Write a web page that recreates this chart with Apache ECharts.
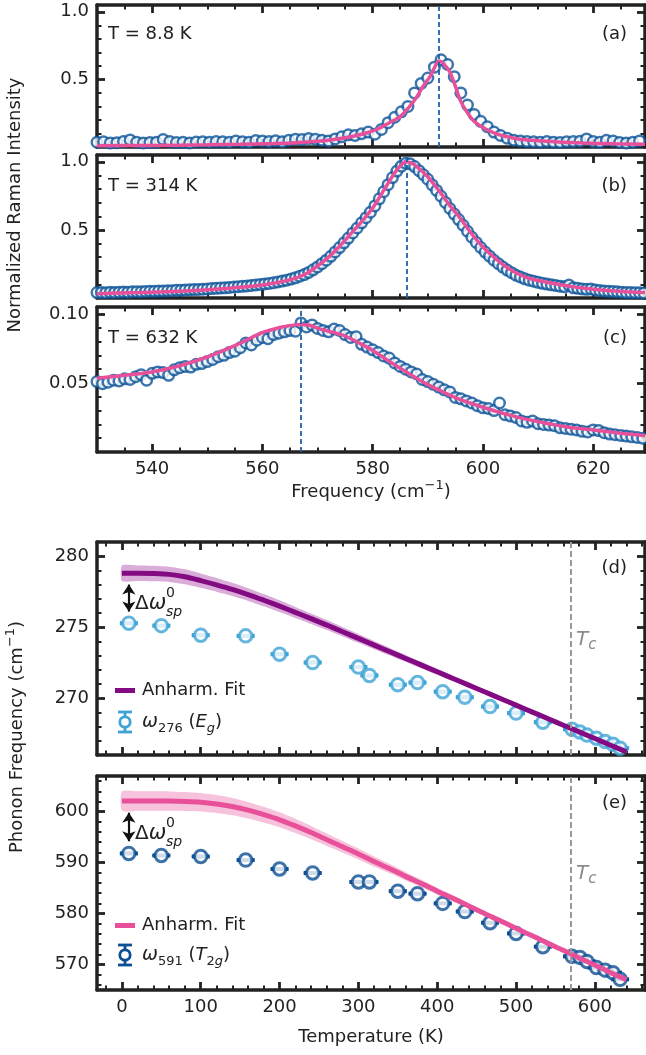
<!DOCTYPE html>
<html>
<head>
<meta charset="utf-8">
<script src="https://cdn.jsdelivr.net/npm/echarts@6/dist/echarts.min.js"></script>
<style>
html, body { margin: 0; padding: 0; background: #fff; }
#chart { width: 646px; height: 1055px; }
</style>
</head>
<body>
<div id="chart"></div>
<script>
// ---------------- Raman spectra (panels a-c) ----------------
const spectrumTemps = [8.8, 314, 632];          // K
const peakCenters = [592.0, 586.1, 567.0];      // cm^-1, fitted peak positions

const freqA = [530.0,531.2,532.4,533.6,534.8,536.0,537.2,538.4,539.6,540.8,542.0,543.2,544.4,545.6,546.8,548.0,549.2,550.4,551.6,552.8,554.0,555.2,556.4,557.6,558.8,560.0,561.2,562.4,563.6,564.8,566.0,567.2,568.4,569.6,570.8,572.0,573.2,574.4,575.6,576.8,578.0,579.2,580.4,581.6,582.8,584.0,585.2,586.4,587.6,588.8,590.0,591.2,592.4,593.6,594.8,596.0,597.2,598.4,599.6,600.8,602.0,603.2,604.4,605.6,606.8,608.0,609.2,610.4,611.6,612.8,614.0,615.2,616.4,617.6,618.8,620.0,621.2,622.4,623.6,624.8,626.0,627.2,628.4];
const intensA = [0.035,0.038,0.030,0.032,0.040,0.052,0.036,0.030,0.034,0.036,0.055,0.040,0.033,0.035,0.030,0.037,0.039,0.036,0.040,0.038,0.035,0.045,0.038,0.036,0.048,0.044,0.040,0.046,0.038,0.050,0.058,0.055,0.062,0.058,0.050,0.045,0.060,0.075,0.090,0.085,0.098,0.110,0.095,0.130,0.180,0.220,0.260,0.300,0.400,0.470,0.510,0.590,0.645,0.610,0.520,0.400,0.310,0.240,0.190,0.150,0.110,0.085,0.065,0.050,0.045,0.040,0.038,0.035,0.040,0.036,0.034,0.038,0.040,0.042,0.060,0.040,0.035,0.050,0.045,0.034,0.030,0.036,0.045];
const fitFreqA = [530,540,550,556,562,566,570,573,576.5,579,581,582.6,584,585,586.5,588,589,590.4,591.2,592,592.6,593.3,594,595,595.9,597,598.3,600,601.9,604,606.7,610,612.8,618,624,629.4];
const fitA = [0.010,0.012,0.016,0.020,0.026,0.032,0.042,0.055,0.080,0.105,0.135,0.170,0.200,0.225,0.290,0.370,0.440,0.520,0.585,0.635,0.625,0.595,0.555,0.450,0.345,0.265,0.195,0.145,0.107,0.080,0.058,0.047,0.040,0.030,0.024,0.020];

const freqB = [530.0,530.8,531.6,532.4,533.2,534.0,534.8,535.6,536.4,537.2,
  538.0,538.8,539.6,540.4,541.2,542.0,542.8,543.6,544.4,545.2,
  546.0,546.8,547.6,548.4,549.2,550.0,550.8,551.6,552.4,553.2,
  554.0,554.8,555.6,556.4,557.2,558.0,558.8,559.6,560.4,561.2,
  562.0,562.8,563.6,564.4,565.2,566.0,566.8,567.6,568.4,569.2,
  570.0,570.8,571.6,572.4,573.2,574.0,574.8,575.6,576.4,577.2,
  578.0,578.8,579.6,580.4,581.2,582.0,582.8,583.6,584.4,585.2,
  586.0,586.8,587.6,588.4,589.2,590.0,590.8,591.6,592.4,593.2,
  594.0,594.8,595.6,596.4,597.2,598.0,598.8,599.6,600.4,601.2,
  602.0,602.8,603.6,604.4,605.2,606.0,606.8,607.6,608.4,609.2,
  610.0,610.8,611.6,612.4,613.2,614.0,614.8,615.6,616.4,617.2,
  618.0,618.8,619.6,620.4,621.2,622.0,622.8,623.6,624.4,625.2,
  626.0,626.8,627.6,628.4,629.2];
const intensB = [0.040,0.041,0.039,0.042,0.041,0.043,0.044,0.043,0.045,0.046,
  0.046,0.048,0.049,0.049,0.051,0.052,0.053,0.054,0.056,0.057,
  0.058,0.060,0.062,0.063,0.065,0.067,0.069,0.071,0.073,0.075,
  0.078,0.081,0.083,0.086,0.089,0.092,0.096,0.099,0.103,0.107,
  0.112,0.118,0.124,0.131,0.139,0.148,0.160,0.172,0.188,0.207,
  0.228,0.252,0.278,0.306,0.338,0.370,0.405,0.440,0.478,0.514,
  0.552,0.590,0.630,0.676,0.728,0.780,0.832,0.884,0.932,0.968,
  0.990,0.985,0.965,0.935,0.905,0.872,0.830,0.790,0.747,0.702,
  0.657,0.616,0.576,0.534,0.490,0.446,0.408,0.371,0.337,0.307,
  0.277,0.252,0.227,0.205,0.186,0.167,0.154,0.141,0.131,0.123,
  0.115,0.108,0.102,0.097,0.092,0.087,0.082,0.095,0.075,0.071,
  0.067,0.064,0.066,0.058,0.055,0.052,0.049,0.047,0.045,0.043,
  0.041,0.040,0.039,0.038,0.037];
const fitFreqB = [530,534,538,542,546,550,554,558,560,562,564,566,568,570,572,574,576,578,580,582,584,585,586,587,588,590,592,594,596,598,600,602,604,606,608,610,612,614,616,618,620,622,624,626,628,629.4];
const fitB = [0.032,0.036,0.040,0.045,0.052,0.060,0.072,0.086,0.096,0.108,0.124,0.146,0.180,0.235,0.300,0.380,0.470,0.560,0.660,0.790,0.920,0.970,1.000,0.990,0.965,0.890,0.790,0.680,0.580,0.470,0.375,0.300,0.235,0.185,0.150,0.128,0.112,0.098,0.085,0.073,0.064,0.057,0.051,0.046,0.042,0.040];

const freqC = [530,531,532,533,534,535,536,537,538,539,540,541,542,543,544,545,546,547,548,549,550,551,552,553,554,555,556,557,558,559,560,561,562,563,564,565,566,567,568,569,570,571,572,573,574,575,576,577,578,579,580,581,582,583,584,585,586,587,588,589,590,591,592,593,594,595,596,597,598,599,600,601,602,603,604,605,606,607,608,609,610,611,612,613,614,615,616,617,618,619,620,621,622,623,624,625,626,627,628,629];
const intensC = [0.0510,0.0495,0.0505,0.0520,0.0515,0.0530,0.0525,0.0545,0.0560,0.0520,0.0570,0.0580,0.0575,0.0555,0.0595,0.0610,0.0620,0.0615,0.0635,0.0640,0.0655,0.0670,0.0690,0.0700,0.0720,0.0730,0.0755,0.0790,0.0775,0.0810,0.0830,0.0820,0.0850,0.0860,0.0870,0.0880,0.0875,0.0935,0.0905,0.0920,0.0895,0.0880,0.0870,0.0890,0.0880,0.0850,0.0830,0.0835,0.0780,0.0760,0.0740,0.0720,0.0695,0.0680,0.0645,0.0620,0.0600,0.0580,0.0565,0.0525,0.0510,0.0490,0.0470,0.0450,0.0435,0.0395,0.0385,0.0370,0.0355,0.0335,0.0320,0.0315,0.0300,0.0355,0.0270,0.0260,0.0250,0.0225,0.0215,0.0225,0.0205,0.0200,0.0195,0.0190,0.0175,0.0170,0.0165,0.0160,0.0150,0.0145,0.0160,0.0155,0.0140,0.0130,0.0125,0.0120,0.0115,0.0110,0.0105,0.0100];
const fitFreqC = [530,535,540,545,550,555,560,563,565,567,568.5,570.5,573,575,577.5,580,582.5,585,587.5,590,592.5,595,597.5,600,602.5,605,607.5,610,612.5,615,617.5,620,622.5,625,627.5,629.4];
const fitC = [0.0535,0.0555,0.0580,0.0625,0.0688,0.0770,0.0864,0.0900,0.0915,0.0923,0.0918,0.0890,0.0865,0.0840,0.0790,0.0735,0.0670,0.0606,0.0545,0.0488,0.0440,0.0394,0.0357,0.0324,0.0293,0.0265,0.0240,0.0220,0.0200,0.0183,0.0170,0.0160,0.0148,0.0136,0.0126,0.0118];

// ---------------- Phonon frequencies vs temperature (panels d-e) ----------------
const temps = [8.8,50,100,157,200,242,300,314,350,375,407,435,467,500,534,571,581,590,602,613,623,632];
const omegaEg = [275.28,275.11,274.44,274.39,273.10,272.51,272.19,271.60,270.95,271.10,270.46,270.07,269.41,268.95,268.31,267.82,267.62,267.40,267.18,266.95,266.75,266.48];
const errEg = [0.06,0.06,0.06,0.06,0.06,0.06,0.06,0.06,0.06,0.06,0.06,0.06,0.06,0.06,0.06,0.06,0.06,0.06,0.06,0.06,0.06,0.06];
const omegaT2g = [591.8,591.4,591.2,590.5,588.75,587.96,586.2,586.2,584.4,583.9,582.0,580.4,578.2,576.1,573.5,571.6,571.4,570.6,569.4,568.9,568.4,567.1];
const errT2g = [0.15,0.15,0.15,0.15,0.15,0.15,0.15,0.15,0.15,0.15,0.15,0.15,0.15,0.15,0.15,0.15,0.15,0.15,0.15,0.15,0.15,0.15];

const fitTemps = [0,20,40,60,80,100,120,140,160,180,200,220,240,260,280,300,320,340,360,380,400,420,440,460,480,500,520,540,560,580,600,620,640];
const fitEg = [278.80,278.80,278.78,278.72,278.55,278.28,277.98,277.66,277.30,276.90,276.48,276.04,275.60,275.15,274.68,274.21,273.74,273.27,272.80,272.33,271.86,271.39,270.92,270.45,269.98,269.51,269.04,268.57,268.10,267.63,267.16,266.69,266.22];
const bandEgLow = [278.25,278.25,278.23,278.18,278.02,277.77,277.49,277.19,276.85,276.47,276.07,275.65,275.23,274.80,274.35,273.90,273.45,273.00,272.55,272.10,271.65,271.20,270.75,270.29,269.83,269.37,268.92,268.46,268.00,267.54,267.08,266.62,266.16];
const bandEgHigh = [279.35,279.35,279.33,279.26,279.08,278.79,278.47,278.13,277.75,277.33,276.89,276.43,275.97,275.50,275.01,274.52,274.03,273.54,273.05,272.56,272.07,271.58,271.09,270.61,270.13,269.65,269.16,268.68,268.20,267.72,267.24,266.76,266.28];
const fitT2g = [602.10,602.10,602.10,602.08,602.00,601.85,601.50,601.00,600.30,599.40,598.40,597.20,595.90,594.50,593.10,591.70,590.20,588.80,587.30,585.90,584.40,583.00,581.50,580.00,578.60,577.10,575.70,574.20,572.80,571.30,569.90,568.40,567.00];
const bandT2gLow = [600.20,600.20,600.20,600.18,600.15,600.05,599.75,599.30,598.68,597.85,596.93,595.81,594.59,593.27,591.95,590.63,589.21,587.89,586.47,585.15,583.72,582.39,580.96,579.53,578.19,576.75,575.41,573.96,572.61,571.15,569.79,568.32,566.95];
const bandT2gHigh = [604.00,604.00,604.00,603.98,603.85,603.65,603.25,602.70,601.92,600.95,599.87,598.59,597.21,595.73,594.25,592.77,591.19,589.71,588.13,586.65,585.08,583.61,582.04,580.47,579.01,577.45,575.99,574.44,572.99,571.45,570.01,568.48,567.05];

const curieTemp = 570;   // K
// Delta omega_sp^0 arrows: [start, end] frequencies at the lowest temperature
const gapEg = [276.1, 278.0];
const gapT2g = [594.2, 599.8];

// ---------------- tick values ----------------
const freqMajor = [540, 560, 580, 600, 620];
const freqMinor = [535, 545, 550, 555, 565, 570, 575, 585, 590, 595, 605, 610, 615, 625];
const intMajor = [0.5, 1.0];
const intMinor = [0.1, 0.2, 0.3, 0.4, 0.6, 0.7, 0.8, 0.9];
const intMajorC = [0.05, 0.10];
const intMinorC = [0.01, 0.02, 0.03, 0.04, 0.06, 0.07, 0.08, 0.09];
const tMajor = [0, 100, 200, 300, 400, 500, 600];
const tMinor = [-20, 20, 40, 60, 80, 120, 140, 160, 180, 220, 240, 260, 280, 320, 340, 360, 380, 420, 440, 460, 480, 520, 540, 560, 580, 620, 640, 660];
const egMajor = [270, 275, 280];
const egMinor = [267, 268, 269, 271, 272, 273, 274, 276, 277, 278, 279];
const t2gMajor = [570, 580, 590, 600];
const t2gMinor = [566, 568, 572, 574, 576, 578, 582, 584, 586, 588, 592, 594, 596, 598, 602, 604, 606];

// ---------------- styling ----------------
const ink = '#222';
const FONT = 'DejaVu Sans';
const FS = 18;
const specBlue = '#0b5499';
const fitPink = '#e8509a';
const dashBlue = '#1f62a6';
const egBlue = '#3ea4d6';
const egPurple = '#840a84';
const egBand = '#d9acd9';
const t2gBlue = '#0d4f93';
const t2gBand = '#f7c3dc';

const grids = [], xAxes = [], yAxes = [];

function axisSet(list, dim, gi, spec, withLabels, fmt) {
  const first = list.length;
  const common = { gridIndex: gi, type: 'value', min: spec.min, max: spec.max, splitLine: { show: false } };
  const sides = dim === 'x' ? ['bottom', 'top'] : ['left', 'right'];
  sides.forEach((pos, k) => {
    list.push(Object.assign({}, common, {
      position: pos,
      axisLine: { show: true, onZero: false, lineStyle: { color: ink, width: 3.5 } },
      axisTick: { show: true, inside: true, length: 8, lineStyle: { color: ink, width: 2.8 }, customValues: spec.major },
      axisLabel: (k === 0 && withLabels)
        ? { show: true, customValues: spec.major, formatter: fmt, color: ink, fontFamily: FONT, fontSize: FS, margin: 8 }
        : { show: false }
    }));
    list.push(Object.assign({}, common, {
      position: pos,
      axisLine: { show: false, onZero: false },
      axisTick: { show: true, inside: true, length: 4.5, lineStyle: { color: ink, width: 2 }, customValues: spec.minor },
      axisLabel: { show: false }
    }));
  });
  return first;
}

function panel(top, height, xs, ys, xLabels, xFmt, yFmt) {
  const gi = grids.length;
  grids.push({ left: 97, right: 1, top: top, height: height, containLabel: false });
  const xi = axisSet(xAxes, 'x', gi, xs, xLabels, xFmt);
  const yi = axisSet(yAxes, 'y', gi, ys, true, yFmt);
  return { xAxisIndex: xi, yAxisIndex: yi };
}

const freqSpec = { min: 530, max: 629.4, major: freqMajor, minor: freqMinor };
const tSpec = { min: -31.6, max: 663.6, major: tMajor, minor: tMinor };
const fmtInt = v => String(Math.round(v));

const axA = panel(5, 142, freqSpec, { min: 0, max: 1.05, major: intMajor, minor: intMinor }, false, null, v => v.toFixed(1));
const axB = panel(155, 143, freqSpec, { min: 0, max: 1.05, major: intMajor, minor: intMinor }, false, null, v => v.toFixed(1));
const axC = panel(307, 145, freqSpec, { min: 0, max: 0.105, major: intMajorC, minor: intMinorC }, true, fmtInt, v => v.toFixed(2));
const axD = panel(542, 213, tSpec, { min: 266, max: 281, major: egMajor, minor: egMinor }, false, null, fmtInt);
const axE = panel(776, 214, tSpec, { min: 565, max: 607, major: t2gMajor, minor: t2gMinor }, true, fmtInt, fmtInt);

const zip = (xs, ys) => xs.map((x, i) => [x, ys[i]]);

function spectrumSeries(ax, freq, inten, fitF, fitV, center) {
  return [
    Object.assign({
      type: 'scatter', data: zip(freq, inten), symbol: 'circle', symbolSize: 10.5, z: 2, silent: true,
      itemStyle: { color: '#fff', borderColor: specBlue, borderWidth: 2.5 },
      markLine: {
        silent: true, symbol: 'none', label: { show: false },
        lineStyle: { color: dashBlue, type: [5, 3], width: 1.8 },
        data: [{ xAxis: center }]
      }
    }, ax),
    Object.assign({
      type: 'line', data: zip(fitF, fitV), showSymbol: false, symbol: 'none', smooth: 0.3, z: 4, silent: true,
      lineStyle: { color: fitPink, width: 3.5 }
    }, ax)
  ];
}

function bandSeries(ax, xs, lo, hi, color) {
  return Object.assign({
    type: 'custom', z: 1, silent: true, data: [[xs[0], lo[0]]],
    renderItem: function (params, api) {
      const pts = [];
      for (let i = 0; i < xs.length; i++) pts.push(api.coord([xs[i], hi[i]]));
      for (let i = xs.length - 1; i >= 0; i--) pts.push(api.coord([xs[i], lo[i]]));
      return { type: 'polygon', shape: { points: pts, smooth: 0.2 }, style: { fill: color } };
    }
  }, ax);
}

function errorBarSeries(ax, xs, ys, errs, color) {
  return Object.assign({
    type: 'custom', z: 2, silent: true, data: xs.map((x, i) => [x, ys[i], errs[i]]),
    renderItem: function (params, api) {
      const x = api.value(0), y = api.value(1), e = api.value(2);
      const lo = api.coord([x, y - e]), hi = api.coord([x, y + e]);
      const hw = 9;
      const st = { stroke: color, lineWidth: 2.5 };
      return { type: 'group', children: [
        { type: 'line', shape: { x1: lo[0], y1: lo[1], x2: hi[0], y2: hi[1] }, style: st },
        { type: 'line', shape: { x1: lo[0] - hw, y1: lo[1], x2: lo[0] + hw, y2: lo[1] }, style: st },
        { type: 'line', shape: { x1: hi[0] - hw, y1: hi[1], x2: hi[0] + hw, y2: hi[1] }, style: st }
      ] };
    }
  }, ax);
}

function phononSeries(ax, ys, errs, fit, lo, hi, ptColor, lineColor, bandColor, gap) {
  return [
    bandSeries(ax, fitTemps, lo, hi, bandColor),
    errorBarSeries(ax, temps, ys, errs, ptColor),
    Object.assign({
      type: 'scatter', data: zip(temps, ys), symbol: 'circle', symbolSize: 12.5, z: 3, silent: true,
      itemStyle: { color: '#fff', borderColor: ptColor, borderWidth: 3 },
      markLine: {
        silent: true, symbol: 'none', label: { show: false },
        lineStyle: { color: '#999', type: [6, 3], width: 2 },
        data: [{ xAxis: curieTemp }]
      }
    }, ax),
    Object.assign({
      type: 'line', data: zip(fitTemps, fit), showSymbol: false, symbol: 'none', smooth: 0.3, z: 4, silent: true,
      lineStyle: { color: lineColor, width: 5 },
      markLine: {
        silent: true, symbol: ['arrow', 'arrow'], symbolSize: [10, 10], label: { show: false },
        lineStyle: { color: '#111', type: 'solid', width: 2.2 },
        data: [[{ coord: [temps[0], gap[0]] }, { coord: [temps[0], gap[1]] }]]
      }
    }, ax)
  ];
}

const series = [].concat(
  spectrumSeries(axA, freqA, intensA, fitFreqA, fitA, peakCenters[0]),
  spectrumSeries(axB, freqB, intensB, fitFreqB, fitB, peakCenters[1]),
  spectrumSeries(axC, freqC, intensC, fitFreqC, fitC, peakCenters[2]),
  phononSeries(axD, omegaEg, errEg, fitEg, bandEgLow, bandEgHigh, egBlue, egPurple, egBand, gapEg),
  phononSeries(axE, omegaT2g, errT2g, fitT2g, bandT2gLow, bandT2gHigh, t2gBlue, fitPink, t2gBand, gapT2g)
);

// ---------------- text and legends ----------------
const graphics = [];
function txt(x, y, text, o) {
  o = o || {};
  graphics.push({
    type: 'text', x: x, y: y, rotation: o.rotation || 0, silent: true, z: 100,
    style: {
      text: text, fill: o.color || ink, fontFamily: FONT, fontSize: o.size || FS,
      fontStyle: o.italic ? 'italic' : 'normal',
      align: o.align || 'left', verticalAlign: 'middle',
      textAlign: o.align || 'left', textVerticalAlign: 'middle',
      rich: o.rich
    }
  });
}
function rs(size, extra) {
  return Object.assign({ fontFamily: FONT, fontSize: size, fill: ink, color: ink, lineHeight: 26, verticalAlign: 'middle' }, extra || {});
}
const richCommon = {
  n: rs(FS),
  w: rs(19, { fontStyle: 'italic' }),
  i: rs(FS, { fontStyle: 'italic' }),
  sub: rs(13, { lineHeight: 12, verticalAlign: 'bottom' }),
  isub: rs(13, { lineHeight: 12, verticalAlign: 'bottom', fontStyle: 'italic' }),
  sup: rs(13, { lineHeight: 12, verticalAlign: 'top' })
};

const panelTags = ['(a)', '(b)', '(c)'];
const panelTextY = [34, 186, 338];
spectrumTemps.forEach((t, k) => {
  txt(108, panelTextY[k], 'T = ' + t + ' K');
  txt(627, panelTextY[k], panelTags[k], { align: 'right' });
});
txt(627, 568, '(d)', { align: 'right' });
txt(627, 803, '(e)', { align: 'right' });

txt(15, 205, '{n|Normalized Raman Intensity}', { rotation: Math.PI / 2, align: 'center', rich: richCommon });
txt(371, 492, '{n|Frequency (cm}{sup|\u22121}{n|)}', { align: 'center', rich: richCommon });
txt(17, 737, '{n|Phonon Frequency (cm}{sup|\u22121}{n|)}', { rotation: Math.PI / 2, align: 'center', rich: richCommon });
txt(371, 1037, '{n|Temperature (K)}', { align: 'center', rich: richCommon });

// Delta omega annotations
const gapLabelY = [604, 834];
gapLabelY.forEach(y => {
  txt(135, y, '{n|\u0394}{w|\u03c9}', { rich: { n: rs(20), w: rs(21, { fontStyle: 'italic' }) } });
  txt(166, y - 11, '0', { size: 14 });
  txt(166, y + 8, 'sp', { size: 14, italic: true });
});

// T_c labels
const tcRich = {
  t: rs(20, { fontStyle: 'italic', fill: '#8c8c8c', color: '#8c8c8c' }),
  c: rs(15, { fontStyle: 'italic', fill: '#8c8c8c', color: '#8c8c8c', lineHeight: 12, verticalAlign: 'bottom' })
};
txt(576, 640, '{t|T}{c|c}', { rich: tcRich });
txt(576, 874, '{t|T}{c|c}', { rich: tcRich });

// legends
function legend(yLine, yMark, lineColor, ptColor, label) {
  graphics.push({ type: 'line', silent: true, z: 100, shape: { x1: 115, y1: yLine, x2: 135, y2: yLine }, style: { stroke: lineColor, lineWidth: 5 } });
  txt(142, yLine, '{n|Anharm. Fit}', { rich: richCommon });
  const st = { stroke: ptColor, lineWidth: 2.8 };
  graphics.push({ type: 'line', silent: true, z: 100, shape: { x1: 125, y1: yMark - 10, x2: 125, y2: yMark + 10 }, style: st });
  graphics.push({ type: 'line', silent: true, z: 100, shape: { x1: 118, y1: yMark - 10, x2: 132, y2: yMark - 10 }, style: st });
  graphics.push({ type: 'line', silent: true, z: 100, shape: { x1: 118, y1: yMark + 10, x2: 132, y2: yMark + 10 }, style: st });
  graphics.push({ type: 'circle', silent: true, z: 101, shape: { cx: 125, cy: yMark, r: 5.2 }, style: { fill: '#fff', stroke: ptColor, lineWidth: 2.8 } });
  txt(142, yMark, label, { rich: richCommon });
}
legend(690.5, 722, egPurple, egBlue, '{w|\u03c9}{sub|276}{n| (}{i|E}{isub|g}{n|)}');
legend(925.5, 955, fitPink, t2gBlue, '{w|\u03c9}{sub|591}{n| (}{i|T}{sub|2}{isub|g}{n|)}');

const chart = echarts.init(document.getElementById('chart'), null, { renderer: 'canvas' });
chart.setOption({
  animation: false,
  backgroundColor: '#fff',
  grid: grids,
  xAxis: xAxes,
  yAxis: yAxes,
  series: series,
  graphic: graphics
});
</script>
</body>
</html>
